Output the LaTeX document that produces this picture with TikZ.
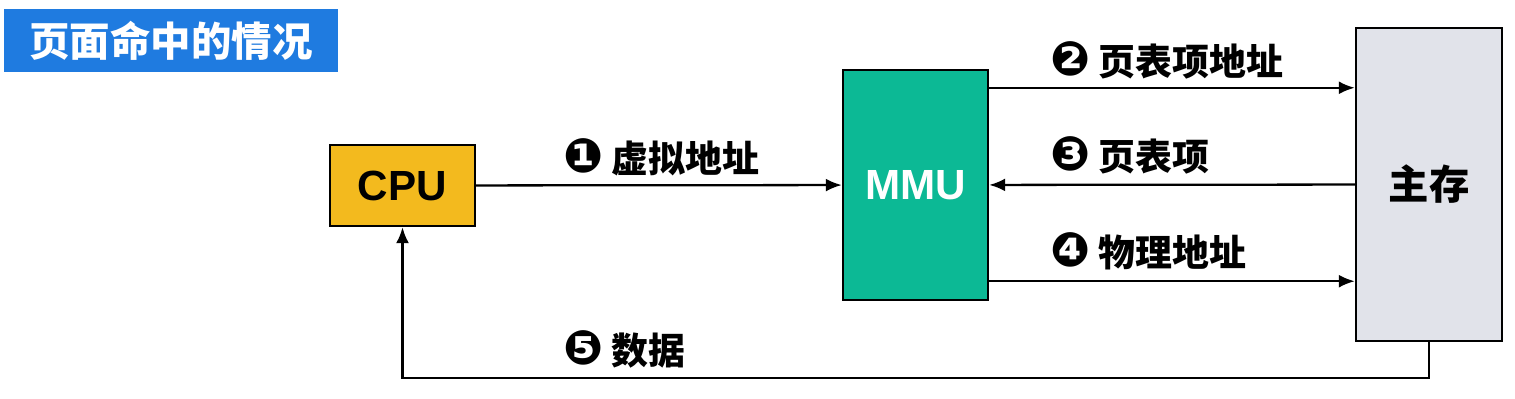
\documentclass[tikz,border=0pt]{standalone}
\usepackage{fontspec}
\setmainfont{Liberation Sans}
\newfontfamily\cjk{Noto Sans CJK SC}
\newfontfamily\dings{DejaVu Sans}
\usetikzlibrary{arrows.meta,positioning}
\newcommand{\circnum}[1]{{\dings\bfseries\fontsize{27}{27}\selectfont #1}}
\definecolor{ctitle}{HTML}{1F7BE0}
\definecolor{ccpu}{HTML}{F3BA1E}
\definecolor{cmmu}{HTML}{0CB995}
\definecolor{cmem}{HTML}{E1E3EA}
\tikzset{
  box/.style={draw=black, line width=1.4pt, inner sep=0pt, font=\fontsize{24}{28}\selectfont\bfseries},
  cpubox/.style={box, fill=ccpu, minimum width=2.9cm, minimum height=1.62cm},
  mmubox/.style={box, fill=cmmu, text=white, minimum width=2.9cm, minimum height=4.6cm},
  membox/.style={box, fill=cmem, minimum width=2.92cm, minimum height=6.26cm, font=\cjk\fontsize{23}{27}\selectfont\bfseries},
  titlebox/.style={fill=ctitle, text=white, minimum width=6.68cm, minimum height=1.26cm, inner sep=0pt, font=\cjk\fontsize{23}{27}\selectfont\bfseries},
  pre/.style={-{Latex[length=3.2mm,width=2.6mm]}, line width=1.3pt},
  lbl/.style={anchor=west, inner sep=0pt, font=\cjk\fontsize{21}{25}\selectfont\bfseries},
}
\begin{document}
\begin{tikzpicture}[x=1cm,y=1cm]
\useasboundingbox[fill=white] (0,0) rectangle (30.3,-7.98);
\node[titlebox] (title) at (3.42,-0.81) {页面命中的情况};
% the three units
\node[cpubox] (cpu) at (8.05,-3.71) {CPU};
\node[mmubox] (mmu) at (18.31,-3.70) {MMU};
\node[membox] (mem) at (28.58,-3.69) {主存};
% steps
\draw[pre] (cpu) -- (mmu);
\node[lbl] (l1) at (11.26,-3.14) {\circnum{❶} 虚拟地址};
\draw[pre] ([yshift=-0.38cm]mmu.north east) coordinate (a2) -- (a2 -| mem.west);
\node[lbl] (l2) at (21.0,-1.2) {\circnum{❷} 页表项地址};
\draw[pre] (mem) -- (mmu);
\node[lbl] (l3) at (21.0,-3.1) {\circnum{❸} 页表项};
\draw[pre] ([yshift=0.4cm]mmu.south east) coordinate (a4) -- (a4 -| mem.west);
\node[lbl] (l4) at (21.0,-5.02) {\circnum{❹} 物理地址};
\draw[pre] (mem.south) -- ++(0,-0.72) -| (cpu.south);
\node[lbl] (l5) at (11.26,-6.98) {\circnum{❺} 数据};
\end{tikzpicture}
\end{document}
